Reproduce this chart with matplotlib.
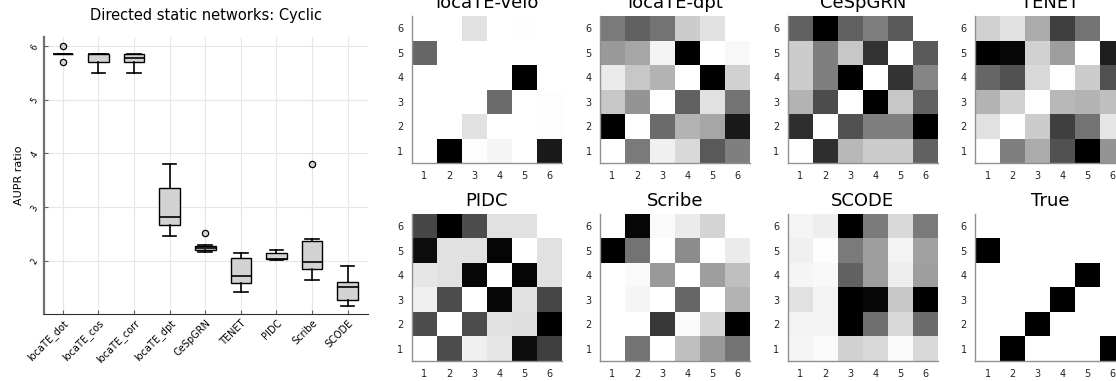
import numpy as np
import matplotlib
matplotlib.use("Agg")
import matplotlib.pyplot as plt

# ---- box plot data (AUPR ratio) ----
methods = ['locaTE_dot', 'locaTE_cos', 'locaTE_corr', 'locaTE_dpt', 'CeSpGRN',
           'TENET', 'PIDC', 'Scribe', 'SCODE']
q1 = [5.86, 5.70, 5.70, 2.66, 2.20, 1.59, 2.03, 1.84, 1.27]
med = [5.86, 5.86, 5.77, 2.82, 2.24, 1.72, 2.04, 1.97, 1.52]
q3 = [5.86, 5.86, 5.86, 3.36, 2.28, 2.06, 2.15, 2.36, 1.61]
whislo = [5.86, 5.49, 5.49, 2.46, 2.16, 1.41, 2.02, 1.65, 1.16]
whishi = [5.86, 5.86, 5.86, 3.80, 2.30, 2.15, 2.21, 2.41, 1.91]
fliers = [[6.0, 5.71], [], [], [], [2.51], [], [], [3.80], []]

# ---- heatmaps (rows listed top y=6 to bottom y=1, columns 1..6) ----
titles = ['locaTE-velo', 'locaTE-dpt', 'CeSpGRN', 'TENET',
          'PIDC', 'Scribe', 'SCODE', 'True']
velo = [[0, 0, 0.12, 0, 0.01, 0],
        [0.6, 0, 0, 0, 0, 0],
        [0, 0, 0, 0, 1.0, 0],
        [0, 0, 0, 0.58, 0, 0.01],
        [0, 0, 0.12, 0, 0, 0.01],
        [0, 1.0, 0.01, 0.04, 0, 0.9]]
dpt = [[0.52, 0.62, 0.55, 0.2, 0.12, 0],
       [0.4, 0.35, 0.05, 1.0, 0, 0.03],
       [0.08, 0.22, 0.3, 0, 1.0, 0.18],
       [0.22, 0.42, 0, 0.62, 0.12, 0.55],
       [1.0, 0, 0.58, 0.3, 0.35, 0.9],
       [0, 0.52, 0.06, 0.15, 0.65, 0.5]]
cespgrn = [[0.62, 1.0, 0.62, 0.5, 0.65, 0],
           [0.2, 0.5, 0.22, 0.8, 0, 0.65],
           [0.2, 0.5, 1.0, 0, 0.8, 0.48],
           [0.3, 0.7, 0, 1.0, 0.22, 0.62],
           [0.82, 0, 0.68, 0.5, 0.5, 1.0],
           [0, 0.82, 0.28, 0.2, 0.2, 0.62]]
tenet = [[0.18, 0.12, 0.33, 0.75, 0.55, 0],
         [1.0, 0.97, 0.18, 0.38, 0, 0.88],
         [0.6, 0.68, 0.15, 0, 0.2, 0.68],
         [0.3, 0.18, 0, 0.28, 0.3, 0.25],
         [0.12, 0, 0.2, 0.75, 0.55, 0.1],
         [0, 0.5, 0.33, 0.68, 1.0, 0.42]]
pidc = [[0.72, 1.0, 0.7, 0.12, 0.12, 0],
        [0.95, 0.12, 0.12, 0.98, 0, 0.12],
        [0.1, 0.12, 0.97, 0, 0.98, 0.12],
        [0.06, 0.7, 0, 0.97, 0.12, 0.72],
        [0.7, 0, 0.7, 0.12, 0.13, 1.0],
        [0, 0.7, 0.06, 0.1, 0.95, 0.75]]
scribe = [[0, 0.97, 0.02, 0.08, 0.17, 0],
          [1.0, 0.55, 0, 0.45, 0, 0.08],
          [0, 0.02, 0.4, 0, 0.38, 0.25],
          [0, 0.04, 0, 0.6, 0, 0.3],
          [0, 0, 0.78, 0.02, 0.17, 1.0],
          [0, 0.55, 0, 0.25, 0.4, 0.55]]
scode = [[0.04, 0.07, 1.0, 0.52, 0.15, 0.52],
         [0.06, 0.01, 0.52, 0.38, 0.05, 0.37],
         [0.04, 0.03, 0.62, 0.38, 0.07, 0.38],
         [0.12, 0.05, 1.0, 0.97, 0.22, 1.0],
         [0.05, 0.05, 1.0, 0.57, 0.15, 0.58],
         [0.04, 0.02, 0.18, 0.15, 0.02, 0.15]]
true = [[0, 0, 0, 0, 0, 0],
        [1, 0, 0, 0, 0, 0],
        [0, 0, 0, 0, 1, 0],
        [0, 0, 0, 1, 0, 0],
        [0, 0, 1, 0, 0, 0],
        [0, 1, 0, 0, 0, 1]]
mats = [velo, dpt, cespgrn, tenet, pidc, scribe, scode, true]

fig = plt.figure(figsize=(11.16, 3.81), dpi=100)

# ---- box plot ----
ax = fig.add_axes([0.0394, 0.176, 0.290, 0.727])
stats = []
for i in range(len(methods)):
    stats.append({'med': med[i], 'q1': q1[i], 'q3': q3[i],
                  'whislo': whislo[i], 'whishi': whishi[i], 'fliers': fliers[i]})
pos = np.arange(1, len(methods) + 1)
ax.bxp(stats, positions=pos, widths=0.58, patch_artist=True, capwidths=0.38,
       boxprops=dict(facecolor='#d3d3d3', edgecolor='black', linewidth=1.0),
       medianprops=dict(color='black', linewidth=1.2),
       whiskerprops=dict(color='black', linewidth=1.2),
       capprops=dict(color='black', linewidth=1.2),
       flierprops=dict(marker='o', markerfacecolor='#d3d3d3', markeredgecolor='black',
                       markersize=4.5, markeredgewidth=0.9))
ax.set_xlim(0.47, 9.56)
ax.set_ylim(1.01, 6.17)
ax.set_xticks(pos)
ax.set_xticklabels(methods, rotation=45, ha='right', rotation_mode='anchor', fontsize=7)
ax.set_yticks([2, 3, 4, 5, 6])
ax.set_yticklabels(['2', '3', '4', '5', '6'], rotation=60, fontsize=6)
ax.grid(True, color='#e6e6e6', linewidth=0.8)
ax.set_axisbelow(True)
for s in ['top', 'right']:
    ax.spines[s].set_visible(False)
ax.spines['left'].set_color('#707070')
ax.spines['left'].set_linewidth(1.6)
ax.spines['bottom'].set_color('#303030')
ax.tick_params(direction='in', length=3, color='#606060', pad=3)
ax.set_ylabel('AUPR ratio', fontsize=8)
ax.set_title('Directed static networks: Cyclic', fontsize=10.5, pad=12)

# ---- heatmaps ----
lefts = [0.369, 0.5376, 0.706, 0.8737]
bottoms = [0.572, 0.0525]
for k, m in enumerate(mats):
    r, c = divmod(k, 4)
    hx = fig.add_axes([lefts[c], bottoms[r], 0.1344, 0.386])
    arr = np.array(m, dtype=float)[::-1]
    hx.pcolormesh(np.arange(0.5, 7.5), np.arange(0.5, 7.5), arr,
                  cmap='gray_r', vmin=0, vmax=1)
    hx.set_xlim(0.5, 6.5)
    hx.set_ylim(0.5, 6.5)
    hx.set_xticks(range(1, 7))
    hx.set_yticks(range(1, 7))
    hx.tick_params(labelsize=7, length=0, pad=6, colors='#222222')
    for s in ['top', 'right']:
        hx.spines[s].set_visible(False)
    for s in ['left', 'bottom']:
        hx.spines[s].set_color('#909090')
        hx.spines[s].set_linewidth(1.0)
    hx.set_title(titles[k], fontsize=13, pad=6)

fig.savefig('out.png', dpi=100)
